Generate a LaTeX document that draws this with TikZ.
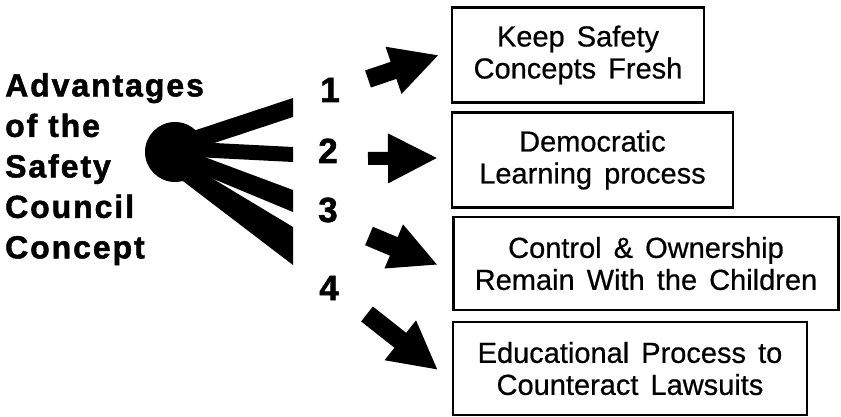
\documentclass[tikz,border=0pt]{standalone}
\usepackage{fontspec}
\setmainfont{Liberation Sans}
\newfontfamily\boxfont[WordSpace=1.5, FakeBold=0.6]{Liberation Sans}
\newfontfamily\titlefont[LetterSpace=6, FakeBold=1.5]{Liberation Sans}
\newfontfamily\numfont[FakeBold=1.5]{Liberation Sans}
\usetikzlibrary{arrows.meta}
\begin{document}
\begin{tikzpicture}[x=1pt,y=-1pt,
  box/.style={draw=black, line width=2.8pt, inner sep=0pt, align=center,
    font=\boxfont\fontsize{29}{32}\selectfont},
  ray/.style={fill=black, draw=none},
  num/.style={font=\numfont\bfseries\fontsize{35}{35}\selectfont, inner sep=0pt, anchor=base},
  blockarrow/.style={draw=black, line cap=butt}
]
\useasboundingbox (0,0) rectangle (841,417);

% title
\node[anchor=north west, inner sep=0pt, align=left,
  font=\titlefont\bfseries\fontsize{32}{40.5}\selectfont] (title) at (5,73)
  {Advantages\\of the\\Safety\\Council\\Concept};

% hub and rays
\node[circle, fill=black, minimum size=60pt, inner sep=0pt] (hub) at (175,152) {};
\fill[ray] (175,137) -- (293,98) -- (293,117) -- (175,156) -- cycle;
\fill[ray] (175,141) -- (293,147) -- (293,162) -- (175,156) -- cycle;
\fill[ray] (175,146) -- (293,190) -- (293,212) -- (175,163) -- cycle;
\fill[ray] (175,156) -- (293,227) -- (293,265) -- (175,175) -- cycle;

% numbers
\node[num] (n1) at (330,102) {1};
\node[num] (n2) at (328,163) {2};
\node[num] (n3) at (328,222) {3};
\node[num] (n4) at (329,300) {4};

% boxes
\node[box, minimum width=252pt, minimum height=95pt] (b1) at (578,55)
  {Keep Safety\\Concepts Fresh};
\node[box, minimum width=281pt, minimum height=95pt] (b2) at (592.5,160)
  {Democratic\\Learning process};
\node[box, minimum width=385pt, minimum height=93pt] (b3) at (646,263.5)
  {Control \& Ownership\\Remain With the Children};
\node[box, minimum width=354pt, minimum height=93pt] (b4) at (630,368.5)
  {Educational Process to\\Counteract Lawsuits};

% arrows
\coordinate (t1) at (368,79);   \coordinate (h1) at (439,55);
\coordinate (t2) at (368,158.5);\coordinate (h2) at (438,158);
\coordinate (t3) at (369,236);  \coordinate (h3) at (438,265);
\coordinate (t4) at (367,314);  \coordinate (h4) at (438,370);
\draw[blockarrow, line width=18pt, -{Triangle[length=48pt, width=46pt]}] (t1) -- (h1);
\draw[blockarrow, line width=13pt, -{Triangle[length=50pt, width=46pt]}] (t2) -- (h2);
\draw[blockarrow, line width=20pt, -{Triangle[length=48pt, width=44pt]}] (t3) -- (h3);
\draw[blockarrow, line width=19pt, -{Triangle[length=48pt, width=47pt]}] (t4) -- (h4);
\end{tikzpicture}
\end{document}
